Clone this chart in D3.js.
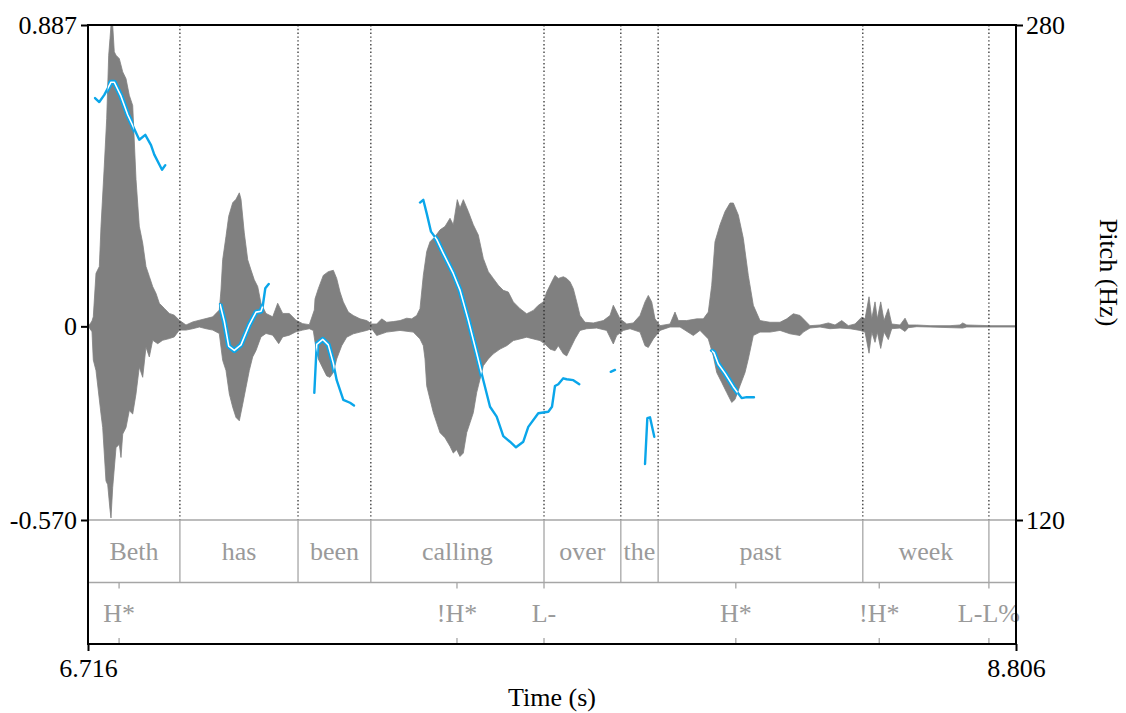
<!DOCTYPE html>
<html><head><meta charset="utf-8">
<script src="https://cdn.jsdelivr.net/npm/d3@7"></script>
<style>
html,body{margin:0;padding:0;background:#fff;}
svg{display:block;font-family:"Liberation Serif","Times New Roman",serif;}
</style></head>
<body><svg id="c" width="1126" height="713"></svg>
<script>
// ---------- data ----------
const timeDomain = [6.716, 8.806];
const ampDomain = [-0.570, 0.887];
const pitchDomain = [120, 280];
const ampTicks = [-0.570, 0, 0.887];
const ampTickLabels = ["-0.570", "0", "0.887"];
const pitchTicks = [120, 280];
const pitchTickLabels = ["120", "280"];
const timeTicks = [6.716, 8.806];
const timeTickLabels = ["6.716", "8.806"];

// waveform envelope [time (s), amplitude]
const waveUpper = [[6.716,0],[6.7205,0.007],[6.725,0.016],[6.7279,0.028],[6.7340,0.156],[6.7415,0.176],[6.7453,0.295],[6.7527,0.472],[6.7581,0.611],[6.7626,0.798],[6.7656,0.848],[6.7678,0.887],[6.7716,0.887],[6.7752,0.808],[6.7791,0.798],[6.7865,0.788],[6.7942,0.749],[6.8016,0.729],[6.8090,0.680],[6.8167,0.650],[6.8241,0.433],[6.8315,0.295],[6.8392,0.245],[6.8466,0.176],[6.8541,0.147],[6.8617,0.117],[6.8692,0.097],[6.8766,0.068],[6.8878,0.053],[6.8991,0.038],[6.9104,0.033],[6.9216,0.018],[6.9367,0.004],[6.9518,0.013],[6.9667,0.018],[6.9818,0.023],[6.9969,0.028],[7.0117,0.048],[7.0155,0.107],[7.0193,0.196],[7.0268,0.265],[7.0329,0.324],[7.0419,0.364],[7.0493,0.374],[7.0568,0.393],[7.0606,0.374],[7.0680,0.275],[7.0757,0.196],[7.0831,0.166],[7.0905,0.137],[7.0982,0.117],[7.1056,0.068],[7.1169,0.038],[7.1320,0.028],[7.1432,0.068],[7.1545,0.038],[7.1694,0.038],[7.1845,0.018],[7.1996,0.008],[7.2144,0.005],[7.2257,0.048],[7.2273,0.081],[7.2347,0.111],[7.2459,0.150],[7.2572,0.161],[7.2685,0.165],[7.2761,0.141],[7.2836,0.101],[7.2910,0.072],[7.3023,0.042],[7.3135,0.032],[7.3286,0.022],[7.3437,0.017],[7.3550,0.007],[7.3662,0.007],[7.3775,0.022],[7.3887,0.012],[7.4036,0.014],[7.4187,0.017],[7.4338,0.024],[7.4450,0.022],[7.4563,0.032],[7.4637,0.052],[7.4712,0.150],[7.4788,0.220],[7.4863,0.249],[7.4975,0.264],[7.5088,0.284],[7.5200,0.294],[7.5313,0.318],[7.5387,0.299],[7.5477,0.373],[7.5538,0.348],[7.5613,0.373],[7.5725,0.338],[7.5838,0.299],[7.5950,0.269],[7.6063,0.200],[7.6176,0.161],[7.6288,0.141],[7.6401,0.121],[7.6513,0.106],[7.6626,0.101],[7.6739,0.072],[7.6890,0.052],[7.7040,0.037],[7.7189,0.047],[7.7302,0.062],[7.7414,0.072],[7.7491,0.101],[7.7604,0.131],[7.7678,0.150],[7.7752,0.141],[7.7865,0.146],[7.7941,0.141],[7.8016,0.131],[7.8090,0.111],[7.8167,0.072],[7.8241,0.032],[7.8353,0.012],[7.8540,0.010],[7.8766,0.017],[7.8917,0.032],[7.8991,0.062],[7.9067,0.042],[7.9142,0.022],[7.9293,0.007],[7.9441,0.010],[7.9592,0.032],[7.9705,0.072],[7.9779,0.091],[7.9856,0.072],[7.9930,0.022],[8.0043,0.002],[8.0268,0.007],[8.0380,0.042],[8.0455,0.017],[8.0644,0.017],[8.0869,0.022],[8.1018,0.022],[8.1130,0.042],[8.1207,0.121],[8.1281,0.249],[8.1394,0.299],[8.1507,0.338],[8.1619,0.363],[8.1694,0.363],[8.1806,0.328],[8.1919,0.259],[8.2031,0.150],[8.2144,0.062],[8.2295,0.017],[8.2520,0.012],[8.2745,0.012],[8.2896,0.022],[8.3045,0.037],[8.3196,0.032],[8.3270,0.022],[8.3421,0.002],[8.3646,0.004],[8.3833,0.010],[8.3984,0.004],[8.4135,0.017],[8.4284,0.002],[8.4434,0.007],[8.4585,0.027],[8.4660,0.022],[8.4750,0.087],[8.4811,0.022],[8.4885,0.072],[8.4937,0.022],[8.5013,0.072],[8.5088,0.017],[8.5184,0.052],[8.5261,0.007],[8.5448,0.004],[8.5561,0.024],[8.5635,0.004],[8.5824,0.004],[8.6124,0.002],[8.6574,0.002],[8.6799,0.004],[8.6860,0.010],[8.6950,0.004],[8.7475,0.002],[8.806,0.002]];
const waveLower = [[6.716,0],[6.7205,-0.007],[6.725,-0.016],[6.7279,-0.099],[6.7340,-0.130],[6.7453,-0.258],[6.7491,-0.298],[6.7565,-0.455],[6.7604,-0.466],[6.7656,-0.540],[6.7678,-0.564],[6.7716,-0.475],[6.7791,-0.357],[6.7865,-0.347],[6.7903,-0.386],[6.7942,-0.317],[6.8016,-0.298],[6.8090,-0.248],[6.8167,-0.258],[6.8241,-0.199],[6.8315,-0.120],[6.8392,-0.150],[6.8466,-0.061],[6.8541,-0.090],[6.8617,-0.041],[6.8730,-0.051],[6.8842,-0.041],[6.8991,-0.036],[6.9104,-0.031],[6.9216,-0.011],[6.9367,-0.011],[6.9518,-0.007],[6.9667,-0.002],[6.9818,-0.007],[6.9969,-0.011],[7.0117,-0.021],[7.0155,-0.061],[7.0193,-0.100],[7.0268,-0.130],[7.0343,-0.199],[7.0419,-0.238],[7.0493,-0.268],[7.0568,-0.278],[7.0644,-0.229],[7.0719,-0.179],[7.0793,-0.130],[7.0869,-0.090],[7.0944,-0.071],[7.1056,-0.031],[7.1169,-0.021],[7.1320,-0.026],[7.1455,-0.051],[7.1545,-0.031],[7.1694,-0.026],[7.1845,-0.016],[7.1996,-0.011],[7.2144,-0.007],[7.2234,-0.012],[7.2273,-0.047],[7.2347,-0.096],[7.2459,-0.126],[7.2536,-0.146],[7.2610,-0.150],[7.2685,-0.136],[7.2761,-0.096],[7.2874,-0.057],[7.2986,-0.032],[7.3135,-0.022],[7.3286,-0.017],[7.3437,-0.012],[7.3550,-0.007],[7.3662,-0.027],[7.3887,-0.017],[7.4187,-0.012],[7.4486,-0.017],[7.4637,-0.037],[7.4712,-0.057],[7.4750,-0.096],[7.4788,-0.175],[7.4863,-0.215],[7.4937,-0.254],[7.5013,-0.284],[7.5088,-0.313],[7.5200,-0.328],[7.5313,-0.353],[7.5387,-0.373],[7.5464,-0.363],[7.5538,-0.383],[7.5613,-0.373],[7.5689,-0.313],[7.5763,-0.284],[7.5838,-0.254],[7.5914,-0.195],[7.5988,-0.156],[7.6063,-0.116],[7.6176,-0.096],[7.6288,-0.081],[7.6439,-0.067],[7.6590,-0.057],[7.6739,-0.042],[7.6890,-0.037],[7.7040,-0.032],[7.7189,-0.037],[7.7340,-0.042],[7.7453,-0.052],[7.7565,-0.067],[7.7678,-0.072],[7.7752,-0.057],[7.7865,-0.081],[7.7941,-0.087],[7.8016,-0.067],[7.8128,-0.037],[7.8241,-0.012],[7.8392,-0.007],[7.8617,-0.005],[7.8842,-0.012],[7.8991,-0.052],[7.9067,-0.027],[7.9216,-0.012],[7.9367,-0.007],[7.9592,-0.017],[7.9705,-0.057],[7.9779,-0.062],[7.9892,-0.037],[8.0043,-0.012],[8.0268,-0.002],[8.0493,-0.002],[8.0793,-0.027],[8.0943,-0.012],[8.1130,-0.037],[8.1243,-0.087],[8.1320,-0.136],[8.1432,-0.165],[8.1545,-0.195],[8.1658,-0.224],[8.1732,-0.215],[8.1844,-0.175],[8.1957,-0.136],[8.2031,-0.096],[8.2144,-0.027],[8.2295,-0.017],[8.2520,-0.017],[8.2745,-0.012],[8.2970,-0.022],[8.3196,-0.027],[8.3270,-0.017],[8.3421,-0.005],[8.3646,-0.002],[8.3871,-0.007],[8.4097,-0.005],[8.4322,-0.007],[8.4547,-0.012],[8.4660,-0.017],[8.4750,-0.079],[8.4811,-0.017],[8.4885,-0.047],[8.4937,-0.017],[8.5013,-0.065],[8.5088,-0.017],[8.5184,-0.039],[8.5261,-0.007],[8.5448,-0.005],[8.5561,-0.015],[8.5635,-0.004],[8.5824,-0.001],[8.6124,-0.002],[8.6860,-0.005],[8.6950,-0.002],[8.7475,-0.002],[8.806,-0.002]];

// pitch contour segments [time (s), F0 (Hz)]
const pitchBeth = [[6.7318,256.4],[6.7414,255.1],[6.7527,257.4],[6.7678,261.5],[6.7752,261.5],[6.7903,257.0],[6.8054,251.0],[6.8315,242.9],[6.8450,244.5],[6.8579,241.2],[6.8653,238.1],[6.8827,233.2],[6.8901,234.7]];
const pitchHas = [[7.0133,189.8],[7.0230,184.2],[7.0329,176.2],[7.0455,174.8],[7.0606,176.6],[7.0793,183.1],[7.0944,187.2],[7.1056,187.5],[7.1095,189.1],[7.1153,194.9],[7.1230,196.3]];
const pitchBeen = [[7.2257,161.1],[7.2311,176.8],[7.2446,178.4],[7.2572,176.6],[7.2684,170.7],[7.2761,165.2],[7.2910,158.8],[7.3061,157.9],[7.3151,157.0]];
const pitchCalling = [[7.4637,222.6],[7.4711,223.5],[7.4788,219.1],[7.4885,213.2],[7.5013,210.7],[7.5162,206.2],[7.5387,199.7],[7.5538,194.3],[7.5725,184.6],[7.5914,173.9],[7.6063,165.2],[7.6214,156.6],[7.6364,153.4],[7.6513,147.1],[7.6664,145.3],[7.6799,143.5],[7.6964,145.3],[7.7076,150.1],[7.7301,154.5],[7.7527,155.0],[7.7610,156.6],[7.7677,163.3],[7.7752,163.9],[7.7864,165.8],[7.7941,165.5],[7.8090,165.2],[7.8225,163.9]];
const pitchOver = [[7.8932,167.9],[7.9029,168.5]];
const pitchThe = [[7.9705,138.1],[7.9757,152.9],[7.9817,153.2],[7.9914,146.9]];
const pitchPast = [[8.1191,174.8],[8.1258,174.1],[8.1355,170.4],[8.1506,167.4],[8.1693,163.1],[8.1882,159.4],[8.1994,159.7],[8.2159,159.7]];

// TextGrid tiers
const wordBoundaries = [6.923, 7.189, 7.353, 7.743, 7.916, 8.000, 8.461, 8.745];
const words = ["Beth", "has", "been", "calling", "over", "the", "past", "week", ""];
const toneTimes = [6.786, 7.547, 7.743, 8.175, 8.498, 8.745];
const toneLabels = ["H*", "!H*", "L-", "H*", "!H*", "L-L%"];

// ---------- layout ----------
const L = 88, R = 1016, T = 25, WB = 520, TIER1 = 582.5, B = 644;
const FS = 26;
const svg = d3.select("#c");
svg.append("rect").attr("width",1126).attr("height",713).attr("fill","#fff");

const x = d3.scaleLinear().domain(timeDomain).range([L, R]);
const yA = d3.scaleLinear().domain(ampDomain).range([WB, T]);
const yP = d3.scaleLinear().domain(pitchDomain).range([WB, T]);

// waveform
const envPts = waveUpper.concat(waveLower.slice().reverse());
const wavePath = d3.line().x(d => x(d[0])).y(d => yA(d[1]))(envPts) + "Z";
svg.append("path").attr("d", wavePath).attr("fill", "#808080")
  .attr("stroke", "#808080").attr("stroke-width", 0.8).attr("stroke-linejoin","round");

svg.append("defs").append("clipPath").attr("id","waveClip")
  .append("path").attr("d", wavePath);

// dotted word boundaries in waveform area
svg.append("g").selectAll("line").data(wordBoundaries).join("line")
  .attr("x1", d => x(d)).attr("x2", d => x(d))
  .attr("y1", T).attr("y2", WB)
  .attr("stroke", "#222").attr("stroke-width", 1.2)
  .attr("stroke-dasharray", "1.4,2.4");

// pitch
const pitchSegs = [pitchBeth, pitchHas, pitchBeen, pitchCalling, pitchOver, pitchThe, pitchPast];
const pline = d3.line().x(d => x(d[0])).y(d => yP(d[1])).curve(d3.curveLinear);
const blue = "#0aa6ea";
svg.append("g").selectAll("path").data(pitchSegs).join("path")
  .attr("d", pline).attr("fill","none").attr("stroke", blue)
  .attr("stroke-width", 2.4).attr("stroke-linejoin","round").attr("stroke-linecap","round");
const hg = svg.append("g").attr("clip-path","url(#waveClip)");
hg.selectAll("path.o").data(pitchSegs).join("path").attr("class","o")
  .attr("d", pline).attr("fill","none").attr("stroke", blue)
  .attr("stroke-width", 5).attr("stroke-linejoin","round");
hg.selectAll("path.i").data(pitchSegs).join("path").attr("class","i")
  .attr("d", pline).attr("fill","none").attr("stroke", "#fff")
  .attr("stroke-width", 1.6).attr("stroke-linejoin","round");

// tiers
const tierGray = "#a6a6a6";
svg.append("line").attr("x1",L).attr("x2",R).attr("y1",WB).attr("y2",WB)
  .attr("stroke",tierGray).attr("stroke-width",1.6);
svg.append("line").attr("x1",L).attr("x2",R).attr("y1",TIER1).attr("y2",TIER1)
  .attr("stroke",tierGray).attr("stroke-width",1.6);
svg.append("g").selectAll("line").data(wordBoundaries).join("line")
  .attr("x1", d => x(d)).attr("x2", d => x(d)).attr("y1", WB).attr("y2", TIER1)
  .attr("stroke", tierGray).attr("stroke-width", 1.3);
const edges = [timeDomain[0]].concat(wordBoundaries, [timeDomain[1]]);
svg.append("g").selectAll("text").data(words).join("text")
  .attr("x", (d,i) => (x(edges[i]) + x(edges[i+1]))/2)
  .attr("y", 560).attr("text-anchor","middle")
  .attr("font-size", FS).attr("fill", "#9a9a9a").text(d => d);

// tone tier
const tg = svg.append("g");
tg.selectAll("line.t").data(toneTimes).join("line").attr("class","t")
  .attr("x1", d => x(d)).attr("x2", d => x(d)).attr("y1", TIER1).attr("y2", TIER1+6)
  .attr("stroke", tierGray).attr("stroke-width", 1.3);
tg.selectAll("line.b").data(toneTimes).join("line").attr("class","b")
  .attr("x1", d => x(d)).attr("x2", d => x(d)).attr("y1", B-6).attr("y2", B)
  .attr("stroke", tierGray).attr("stroke-width", 1.3);
tg.selectAll("text").data(toneLabels).join("text")
  .attr("x", (d,i) => x(toneTimes[i])).attr("y", 622)
  .attr("text-anchor","middle").attr("font-size", FS).attr("fill", "#9a9a9a").text(d => d);

// frame
const fr = svg.append("g").attr("stroke","#000").attr("stroke-width",2).attr("fill","none");
fr.append("path").attr("d", `M${L},${T}H${R}V${B}H${L}Z`).attr("stroke-linejoin","miter");

// axes
function styleAxis(g){
  g.select(".domain").remove();
  g.selectAll(".tick line").attr("stroke","#000").attr("stroke-width",2);
  g.selectAll(".tick text").attr("font-size", FS).attr("fill","#000")
    .attr("font-family", '"Liberation Serif","Times New Roman",serif');
}
svg.append("g").attr("transform",`translate(${L},0)`)
  .call(d3.axisLeft(yA).tickValues(ampTicks).tickSize(7).tickPadding(4)
    .tickFormat((d,i) => ampTickLabels[i])).call(styleAxis);
svg.append("g").attr("transform",`translate(${R},0)`)
  .call(d3.axisRight(yP).tickValues(pitchTicks).tickSize(7).tickPadding(3)
    .tickFormat((d,i) => pitchTickLabels[i])).call(styleAxis);
svg.append("g").attr("transform",`translate(0,${B})`)
  .call(d3.axisBottom(x).tickValues(timeTicks).tickSize(7).tickPadding(8)
    .tickFormat((d,i) => timeTickLabels[i])).call(styleAxis);

// axis titles
svg.append("text").attr("x", (L+R)/2).attr("y", 706).attr("text-anchor","middle")
  .attr("font-size", FS).attr("fill","#000").text("Time (s)");
svg.append("text").attr("transform", `translate(1100,${(T+WB)/2}) rotate(90)`)
  .attr("text-anchor","middle").attr("font-size", FS).attr("fill","#000").text("Pitch (Hz)");
</script></body></html>
